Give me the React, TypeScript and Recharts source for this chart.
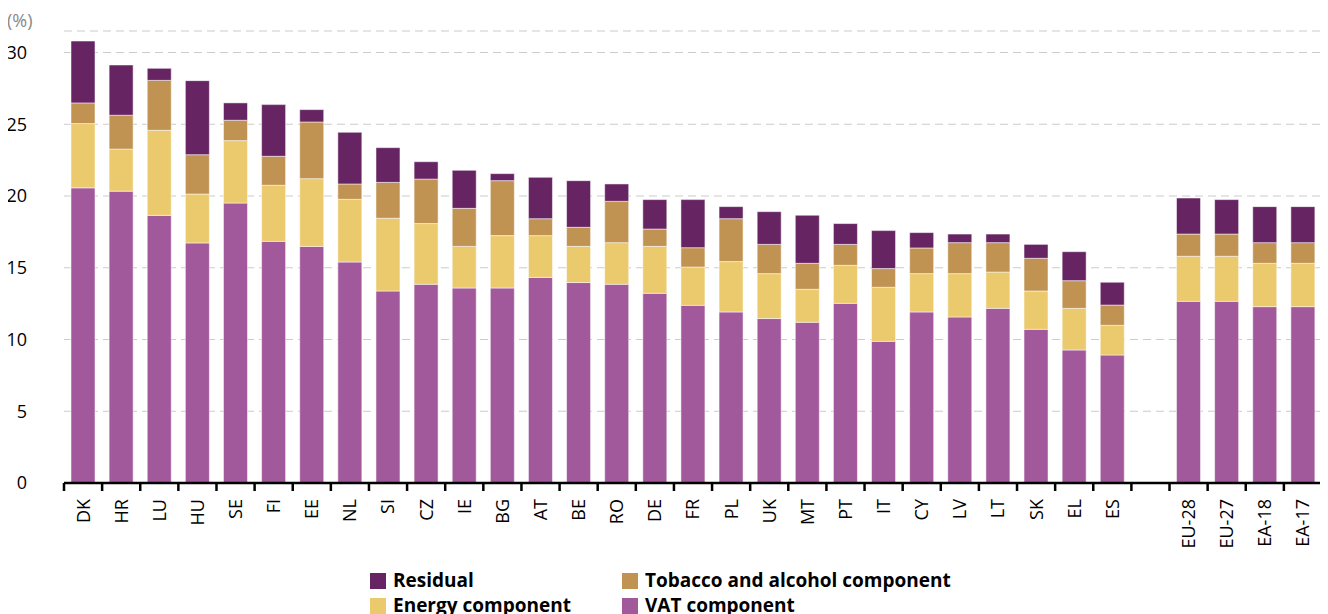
import { Bar, BarChart, CartesianGrid, Legend, XAxis, YAxis } from 'recharts';

const categories = [
  'DK', 'HR', 'LU', 'HU', 'SE', 'FI', 'EE', 'NL', 'SI', 'CZ', 'IE', 'BG', 'AT', 'BE', 'RO', 'DE',
  'FR', 'PL', 'UK', 'MT', 'PT', 'IT', 'CY', 'LV', 'LT', 'SK', 'EL', 'ES', '', 'EU-28', 'EU-27', 'EA-18', 'EA-17',
];
const vat = [
  20.57, 20.34, 18.65, 16.73, 19.51, 16.84, 16.49, 15.4, 13.38, 13.85, 13.59, 13.59, 14.33, 13.97, 13.85, 13.22,
  12.38, 11.92, 11.46, 11.2, 12.52, 9.87, 11.92, 11.57, 12.17, 10.71, 9.27, 8.92, null, 12.66, 12.66, 12.29, 12.29,
];
const energy = [
  4.48, 2.93, 5.93, 3.41, 4.35, 3.91, 4.72, 4.37, 5.07, 4.23, 2.9, 3.65, 2.91, 2.52, 2.9, 3.27,
  2.67, 3.51, 3.13, 2.3, 2.65, 3.77, 2.67, 3.02, 2.53, 2.67, 2.9, 2.07, null, 3.14, 3.14, 3.02, 3.02,
];
const tobacco = [
  1.44, 2.36, 3.48, 2.74, 1.42, 2.02, 3.95, 1.07, 2.5, 3.1, 2.65, 3.83, 1.18, 1.33, 2.88, 1.21,
  1.35, 2.99, 2.04, 1.81, 1.46, 1.3, 1.79, 2.16, 2.05, 2.28, 1.93, 1.41, null, 1.55, 1.55, 1.44, 1.44,
];
const residual = [
  4.31, 3.5, 0.84, 5.16, 1.21, 3.6, 0.86, 3.6, 2.42, 1.21, 2.65, 0.49, 2.88, 3.25, 1.21, 2.05,
  3.35, 0.84, 2.28, 3.35, 1.45, 2.65, 1.07, 0.6, 0.6, 0.97, 2.02, 1.59, null, 2.51, 2.4, 2.51, 2.51,
];
const yTicks = [0, 5, 10, 15, 20, 25, 30];

const colors = {
  vat: '#a2599b',
  energy: '#ebc96d',
  tobacco: '#c09352',
  residual: '#662463',
};

const data = categories.map((name, i) => ({
  name,
  vat: vat[i],
  energy: energy[i],
  tobacco: tobacco[i],
  residual: residual[i],
}));

const font = '"Open Sans", sans-serif';
const W = 1328;
const H = 614;
const LEFT = 64;
const RIGHT = 6;
const slot = (W - LEFT - RIGHT) / categories.length;

function XTick(props: any) {
  const { x, y, payload, index } = props;
  const half = slot / 2;
  const ty = y + 16;
  return (
    <g>
      <line x1={x - half} x2={x - half} y1={y} y2={y + 8} stroke="#000" strokeWidth={2.5} />
      {index === categories.length - 1 && (
        <line x1={x + half} x2={x + half} y1={y} y2={y + 8} stroke="#000" strokeWidth={2.5} />
      )}
      <text
        x={x}
        y={ty}
        transform={`rotate(-90 ${x} ${ty})`}
        textAnchor="end"
        dy="0.36em"
        fontSize={18}
        fontFamily={font}
        fill="#000"
      >
        {payload.value}
      </text>
    </g>
  );
}

const legendRows = [
  [
    { key: 'residual', label: 'Residual' },
    { key: 'tobacco', label: 'Tobacco and alcohol component' },
  ],
  [
    { key: 'energy', label: 'Energy component' },
    { key: 'vat', label: 'VAT component' },
  ],
];

function LegendBox() {
  return (
    <div
      style={{
        height: 46,
        paddingLeft: 370,
        display: 'grid',
        gridTemplateColumns: '252px auto',
        gridAutoRows: '25px',
        fontFamily: font,
        fontWeight: 700,
        fontSize: 19,
        color: '#000',
      }}
    >
      {legendRows.flat().map((item) => (
        <div key={item.key} style={{ display: 'flex', alignItems: 'center', gap: 7, lineHeight: '25px' }}>
          <span
            style={{
              width: 16,
              height: 16,
              background: colors[item.key as keyof typeof colors],
              display: 'inline-block',
            }}
          />
          {item.label}
        </div>
      ))}
    </div>
  );
}

export default function App() {
  return (
    <div style={{ margin: '-8px 0 0 -8px', width: W, height: H, background: '#fff' }}>
      <BarChart
        width={W}
        height={H}
        data={data}
        margin={{ top: 31, right: RIGHT, bottom: 0, left: 0 }}
        barSize={24}
      >
        <CartesianGrid vertical={false} stroke="#cccccc" strokeDasharray="8 5" strokeWidth={1.2} />
        <XAxis
          dataKey="name"
          interval={0}
          height={85}
          tickSize={0}
          tickMargin={0}
          tickLine={false}
          axisLine={{ stroke: '#000', strokeWidth: 2.5 }}
          tick={<XTick />}
        />
        <YAxis
          width={LEFT}
          domain={[0, 31.5]}
          ticks={yTicks}
          axisLine={false}
          tickLine={false}
          tickSize={0}
          tickMargin={37}
          tick={{ fontSize: 18, fontFamily: font, fill: '#000' }}
          label={{
            content: () => (
              <text x={7} y={27} fontSize={18} fontFamily={font} fill="#888888">
                (%)
              </text>
            ),
          }}
        />
        <Legend
          verticalAlign="bottom"
          content={<LegendBox />}
          wrapperStyle={{ left: 0, width: W, bottom: 0, height: 46 }}
        />
        <Bar dataKey="vat" stackId="a" fill={colors.vat} stroke="#ffffff" strokeOpacity={0.5} isAnimationActive={false} />
        <Bar dataKey="energy" stackId="a" fill={colors.energy} stroke="#ffffff" strokeOpacity={0.5} isAnimationActive={false} />
        <Bar dataKey="tobacco" stackId="a" fill={colors.tobacco} stroke="#ffffff" strokeOpacity={0.5} isAnimationActive={false} />
        <Bar dataKey="residual" stackId="a" fill={colors.residual} stroke="#ffffff" strokeOpacity={0.5} isAnimationActive={false} />
      </BarChart>
    </div>
  );
}
